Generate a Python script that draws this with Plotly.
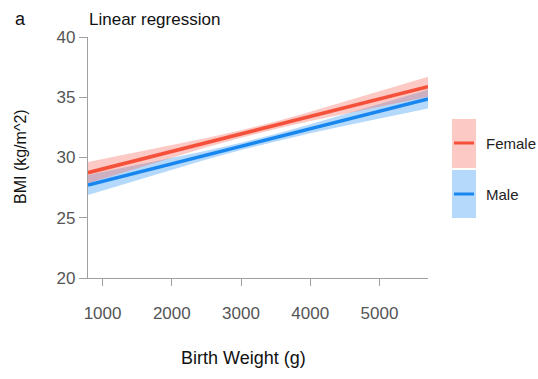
import plotly.graph_objects as go

# ---- data ----
birth_weight = [790, 1500, 2000, 2500, 3000, 3500, 4000, 4500, 5000, 5700]
female_fit = [28.74, 29.77, 30.50, 31.23, 31.95, 32.68, 33.41, 34.13, 34.86, 35.88]
female_half_ci = [0.88, 0.65, 0.50, 0.38, 0.31, 0.31, 0.38, 0.50, 0.65, 0.83]
male_fit = [27.72, 28.75, 29.48, 30.20, 30.93, 31.65, 32.38, 33.11, 33.83, 34.85]
male_half_ci = [0.83, 0.62, 0.48, 0.37, 0.30, 0.30, 0.37, 0.48, 0.62, 0.78]
x_ticks = [1000, 2000, 3000, 4000, 5000]
y_ticks = [20, 25, 30, 35, 40]
series_names = ["Female", "Male"]

W, H = 538, 379
ML, MR, MT, MB = 88, 110, 37, 101
PW, PH = W - ML - MR, H - MT - MB

def px(x):
    return (x - ML) / PW

def py(y):
    return (H - MB - y) / PH

FONT = "Liberation Sans, Arial, sans-serif"
f_line, m_line = "#f5503a", "#1786ef"
f_fill, m_fill = "rgba(247,100,85,0.35)", "rgba(70,160,245,0.40)"

fig = go.Figure()

def add_band(fit, half, fill_c):
    upper = [a + b for a, b in zip(fit, half)]
    lower = [a - b for a, b in zip(fit, half)]
    fig.add_trace(go.Scatter(x=birth_weight, y=upper, mode="lines",
                             line=dict(width=0), hoverinfo="skip", showlegend=False))
    fig.add_trace(go.Scatter(x=birth_weight, y=lower, mode="lines", fill="tonexty",
                             fillcolor=fill_c, line=dict(width=0), hoverinfo="skip",
                             showlegend=False))

add_band(male_fit, male_half_ci, m_fill)
add_band(female_fit, female_half_ci, f_fill)
fig.add_trace(go.Scatter(x=birth_weight, y=male_fit, mode="lines",
                         line=dict(color=m_line, width=3.5), name="Male", showlegend=False))
fig.add_trace(go.Scatter(x=birth_weight, y=female_fit, mode="lines",
                         line=dict(color=f_line, width=3.5), name="Female", showlegend=False))

# manual legend
shapes = []
annotations = []
legend_items = [(series_names[0], f_fill, f_line, 119, 168, 143),
                (series_names[1], m_fill, m_line, 170, 218, 194)]
for name, fc, lc, y0, y1, ym in legend_items:
    shapes.append(dict(type="rect", xref="paper", yref="paper",
                       x0=px(452), x1=px(476), y0=py(y1), y1=py(y0),
                       fillcolor=fc, line=dict(width=0), layer="above"))
    shapes.append(dict(type="line", xref="paper", yref="paper",
                       x0=px(454), x1=px(474), y0=py(ym), y1=py(ym),
                       line=dict(color=lc, width=3)))
    annotations.append(dict(text=name, xref="paper", yref="paper", x=px(484), y=py(ym),
                            xanchor="left", yanchor="middle", showarrow=False,
                            font=dict(size=15, color="#222", family=FONT)))

annotations += [
    dict(text="a", xref="paper", yref="paper", x=px(13), y=py(19), xanchor="left",
         yanchor="middle", showarrow=False, font=dict(size=18, color="#111", family=FONT)),
    dict(text="Linear regression", xref="paper", yref="paper", x=px(87), y=py(19),
         xanchor="left", yanchor="middle", showarrow=False,
         font=dict(size=17, color="#111", family=FONT)),
    dict(text="Birth Weight (g)", xref="paper", yref="paper", x=px(243), y=py(358),
         xanchor="center", yanchor="middle", showarrow=False,
         font=dict(size=18, color="#111", family=FONT)),
    dict(text="BMI (kg/m^2)", xref="paper", yref="paper", x=px(20), y=py(157),
         xanchor="center", yanchor="middle", showarrow=False, textangle=-90,
         font=dict(size=16, color="#111", family=FONT)),
]

axis_common = dict(showgrid=False, zeroline=False, showline=True, linecolor="#a0a0a0",
                   linewidth=1.3, ticks="outside", tickcolor="#a0a0a0", tickwidth=1.3,
                   tickfont=dict(size=17, color="#555", family=FONT))

fig.update_layout(
    width=W, height=H, margin=dict(l=ML, r=MR, t=MT, b=MB),
    paper_bgcolor="white", plot_bgcolor="white", showlegend=False,
    xaxis=dict(range=[790, 5700], tickvals=x_ticks, ticklen=7, ticklabelstandoff=12,
               **axis_common),
    yaxis=dict(range=[20, 40], tickvals=y_ticks, ticklen=8, **axis_common),
    shapes=shapes, annotations=annotations,
)

fig.write_html("out.html")
